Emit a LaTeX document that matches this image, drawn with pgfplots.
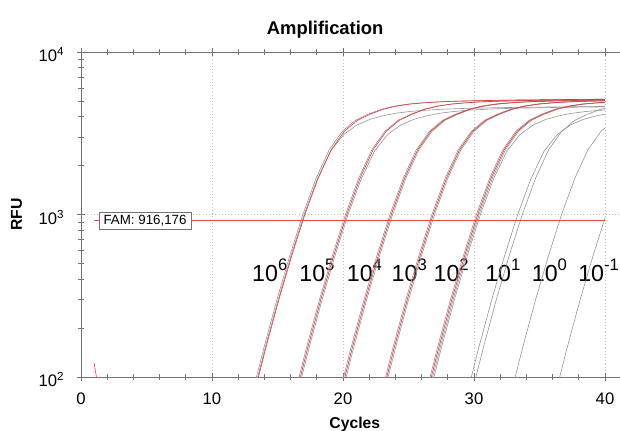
\documentclass[border=0pt]{standalone}
\usepackage{fontspec}
\setmainfont{Liberation Sans}
\usepackage{pgfplots}
\pgfplotsset{compat=1.18}
\usepackage{pgfplotstable}

\definecolor{framegray}{RGB}{115,115,115}
\definecolor{gridgray}{RGB}{195,195,195}
\definecolor{curvegray}{RGB}{150,150,150}
\definecolor{curvered}{RGB}{232,55,55}
\definecolor{threshred}{RGB}{238,70,70}

\newcommand{\dil}[1]{10\raisebox{8.5pt}{\fontsize{12.5}{13}\selectfont #1}}

% amplification curve shape, cycles relative to the half-max cycle
\pgfplotstableread{
t    A     B
-8   20    20
-7   36    36
-6   72    72
-5   150   150
-4   298   298
-3   561   561
-2   1006  1006
-1   1671  1660
0    2500  2450
1    3250  3100
2    3800  3550
3    4150  3850
4    4450  4050
5    4650  4200
6    4780  4300
7    4860  4370
8    4920  4420
9    4960  4460
10   4990  4490
12   5030  4530
14   5060  4560
18   5100  4600
22   5130  4630
}\shape

\begin{document}
\begin{tikzpicture}
\useasboundingbox (-60.75pt,-39.75pt) rectangle (404.25pt,282.75pt);
% frame, ticks, grid, labels
\begin{axis}[
  scale only axis, width=404.25pt, height=243.75pt,
  xmin=0, xmax=41.145, ymode=log, ymin=100, ymax=10000,
  axis x line=box, axis y line=left, axis line style={framegray,-},
  xtick={0,10,20,30,40}, xticklabels={0,10,20,30,40},
  minor x tick num=4,
  ytick={100,1000,10000},
  yticklabels={10\textsuperscript{2},10\textsuperscript{3},10\textsuperscript{4}},
  tick align=center, major tick length=6pt, minor tick length=4pt,
  tick style={framegray, line width=0.5pt},
  xmajorgrids, ymajorgrids, grid style={gridgray, dotted, line width=0.5pt},
  ticklabel style={font=\fontsize{12.5}{14}\selectfont, black},
  xticklabel style={yshift=-5pt},
  yticklabel style={xshift=-6pt, yshift=-2pt},
  every axis title shift=0pt,
  title=Amplification,
  title style={at={(0.453,1.0523)}, anchor=base, font=\bfseries\fontsize{13.8}{16}\selectfont},
  xlabel=Cycles,
  xlabel style={at={(0.508,-0.1569)}, anchor=base, font=\bfseries\fontsize{11.8}{14}\selectfont},
  ylabel=RFU,
  ylabel style={at={(-0.1095,0.5)}, anchor=base, font=\bfseries\fontsize{11.8}{14}\selectfont},
]
\addplot[draw=none] coordinates {(0,100)};
\begin{scope}[every node/.style={anchor=base west, inner sep=0pt, font=\fontsize{17.4}{19}\selectfont}]
\node at (axis cs:13.05,385) {\dil{6}};
\node at (axis cs:16.65,385) {\dil{5}};
\node at (axis cs:20.28,385) {\dil{4}};
\node at (axis cs:23.70,385) {\dil{3}};
\node at (axis cs:26.90,385) {\dil{2}};
\node at (axis cs:30.84,385) {\dil{1}};
\node at (axis cs:34.40,385) {\dil{0}};
\node at (axis cs:37.94,385) {\dil{-1}};
\end{scope}
\end{axis}
% curves, clipped at cycle 40
\begin{axis}[
  scale only axis, width=392.96pt, height=243.75pt,
  xmin=0, xmax=40, ymode=log, ymin=100, ymax=10000,
  hide axis,
  every axis plot/.append style={line width=0.45pt},
]
\addplot[curvegray] table[x expr=\thisrow{t}+18.95, y=A] {\shape};
\addplot[curvegray] table[x expr=\thisrow{t}+19.05, y=B] {\shape};
\addplot[curvegray] table[x expr=\thisrow{t}+22.2, y=A] {\shape};
\addplot[curvegray] table[x expr=\thisrow{t}+22.4, y=B] {\shape};
\addplot[curvegray] table[x expr=\thisrow{t}+25.6, y=A] {\shape};
\addplot[curvegray] table[x expr=\thisrow{t}+25.8, y=A] {\shape};
\addplot[curvegray] table[x expr=\thisrow{t}+28.8, y=A] {\shape};
\addplot[curvegray] table[x expr=\thisrow{t}+29.0, y=A] {\shape};
\addplot[curvegray] table[x expr=\thisrow{t}+32.2, y=A] {\shape};
\addplot[curvegray] table[x expr=\thisrow{t}+32.4, y=A] {\shape};
\addplot[curvegray] table[x expr=\thisrow{t}+32.5, y=B] {\shape};
\addplot[curvegray] table[x expr=\thisrow{t}+35.35, y=B] {\shape};
\addplot[curvegray] table[x expr=\thisrow{t}+35.7, y=A] {\shape};
\addplot[curvegray] table[x expr=\thisrow{t}+38.7, y=A] {\shape};
\addplot[curvegray] table[x expr=\thisrow{t}+42.1, y=A] {\shape};
\addplot[curvered] table[x expr=\thisrow{t}+19.1, y=A] {\shape};
\addplot[curvered] table[x expr=\thisrow{t}+22.3, y=A] {\shape};
\addplot[curvered] table[x expr=\thisrow{t}+25.7, y=A] {\shape};
\addplot[curvered] table[x expr=\thisrow{t}+28.9, y=A] {\shape};
\addplot[curvered] table[x expr=\thisrow{t}+32.3, y=A] {\shape};
\addplot[curvered] coordinates {(1,122) (2,40)};
% threshold
\addplot[threshred, line width=0.6pt] coordinates {(1,916.176) (40,916.176)};
\node[draw=framegray, fill=white, inner xsep=3.5pt, inner ysep=2pt, line width=0.5pt,
      font=\fontsize{10}{12}\selectfont] at (axis cs:4.89,916.176) {FAM: 916,176};
\end{axis}
\end{tikzpicture}
\end{document}
